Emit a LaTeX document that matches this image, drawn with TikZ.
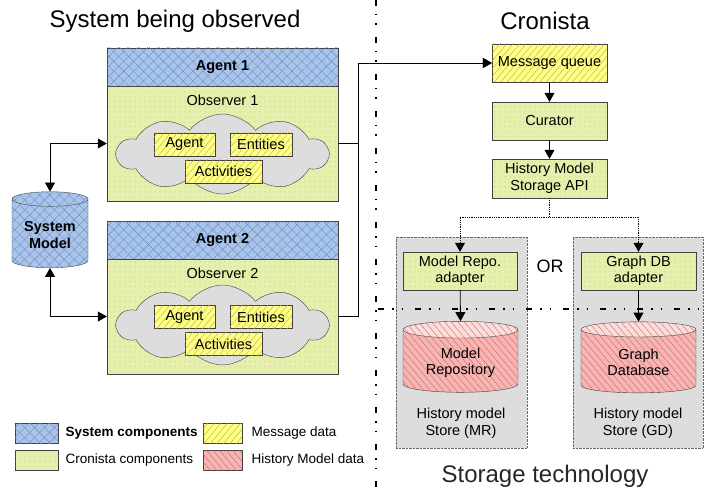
\documentclass[tikz,border=0pt]{standalone}
\usepackage{fontspec}
\setmainfont{Liberation Sans}
\usetikzlibrary{shapes.geometric, shapes.symbols, arrows.meta, positioning, patterns.meta}
\definecolor{sysblue}{HTML}{A9C4EB}
\definecolor{sysline}{HTML}{6C8EBF}
\definecolor{cgreen}{HTML}{E6F0AC}
\definecolor{cgreendot}{HTML}{AEBB70}
\definecolor{myellow}{HTML}{FFFF88}
\definecolor{myellowline}{HTML}{B8AE3C}
\definecolor{hred}{HTML}{F6B4B2}
\definecolor{hredline}{HTML}{C86A68}
\definecolor{stgray}{HTML}{DDDDDD}

\begin{document}
\begin{tikzpicture}[x=1pt, y=-1pt,
  font=\fontsize{14.5}{16.5}\selectfont,
  sysbox/.style={rectangle, draw=black!75, fill=sysblue, postaction={pattern={Hatch[angle=45,distance=7pt,line width=0.4pt]}, pattern color=sysline}, font=\fontsize{14.5}{16.5}\selectfont\bfseries},
  cbox/.style={rectangle, draw=black!75, fill=cgreen, postaction={pattern={Dots[distance=5pt,radius=0.5pt]}, pattern color=cgreendot}, align=center},
  mbox/.style={rectangle, draw=black!75, fill=myellow, postaction={pattern={Lines[angle=50,distance=5pt,line width=0.4pt]}, pattern color=myellowline}, align=center},
  hbox/.style={rectangle, draw=black!75, fill=hred, postaction={pattern={Lines[angle=-50,distance=5pt,line width=0.4pt]}, pattern color=hredline}},
  hcyl/.style={cylinder, shape border rotate=90, aspect=0.22, draw=black!75, cylinder uses custom fill, cylinder body fill=hred, cylinder end fill=hred!45, postaction={pattern={Lines[angle=-50,distance=5pt,line width=0.4pt]}, pattern color=hredline}, align=center, minimum width=115pt, minimum height=71pt},
  store/.style={rectangle, draw=black!60, densely dotted, fill=stgray, minimum width=131pt, minimum height=211pt},
  cloudy/.style={cloud, cloud puffs=10, cloud puff arc=105, cloud ignores aspect, draw=black!75, fill=stgray, minimum width=211pt, minimum height=80pt, inner sep=0pt},
  title/.style={font=\fontsize{24}{28}\selectfont},
  legtext/.style={anchor=west, font=\fontsize{13.5}{16}\selectfont},
  conn/.style={-{Triangle[length=9pt,width=10pt]}, thick, black},
  biconn/.style={{Triangle[length=9pt,width=10pt]}-{Triangle[length=9pt,width=10pt]}, thick, black},
  dotconn/.style={-{Triangle[length=9pt,width=10pt]}, densely dotted, thick, black},
  divider/.style={line width=1.2pt, dash pattern=on 6pt off 8pt on 1.5pt off 8pt on 1.5pt off 12pt}
]
\useasboundingbox (0,0) rectangle (710,492);

% titles
\node[title] (ttlsys) at (175,21) {System being observed};
\node[title] (ttlcro) at (545,21) {Cronista};
\node[title, text=black!85] (ttlsto) at (545,476) {Storage technology};

% system being observed
\node[sysbox, minimum width=231pt, minimum height=38pt] (agentA) at (222.5,67) {Agent 1};
\node[cbox, minimum width=231pt, minimum height=115pt] (obsA) at (222.5,143.5) {};
\node (obsAlbl) at (222.5,100) {Observer 1};
\node[cloudy] (cloudA) at (222.5,154) {};
\node[mbox, minimum width=61pt, minimum height=23pt, inner sep=1pt] (agA) at (184.5,144.5) {Agent};
\node[mbox, minimum width=62pt, minimum height=23pt, inner sep=1pt] (enA) at (261,144.5) {Entities};
\node[mbox, minimum width=77pt, minimum height=23pt, inner sep=1pt] (acA) at (223.5,171.5) {Activities};

\node[sysbox, minimum width=231pt, minimum height=38pt] (agentB) at (222.5,240) {Agent 2};
\node[cbox, minimum width=231pt, minimum height=115pt] (obsB) at (222.5,316.5) {};
\node (obsBlbl) at (222.5,273) {Observer 2};
\node[cloudy] (cloudB) at (222.5,325) {};
\node[mbox, minimum width=61pt, minimum height=23pt, inner sep=1pt] (agB) at (184.5,317) {Agent};
\node[mbox, minimum width=62pt, minimum height=23pt, inner sep=1pt] (enB) at (261,317) {Entities};
\node[mbox, minimum width=77pt, minimum height=23pt, inner sep=1pt] (acB) at (223.5,344) {Activities};

\node[cylinder, shape border rotate=90, aspect=0.25, draw=black!75, fill=sysblue, postaction={pattern={Hatch[angle=45,distance=7pt,line width=0.4pt]}, pattern color=sysline}, minimum width=76pt, minimum height=76pt, align=center, font=\fontsize{14.5}{16.5}\selectfont\bfseries] (sysmodel) at (50,235) {System\\Model};

% cronista
\node[mbox, minimum width=115pt, minimum height=38pt] (msgq) at (549.5,63) {Message queue};
\node[cbox, minimum width=115pt, minimum height=38pt] (curator) at (549.5,121) {Curator};
\node[cbox, minimum width=115pt, minimum height=39pt, inner sep=1pt] (api) at (549.5,178.5) {History Model\\Storage API};

% storage
\node[store] (storeMR) at (461.5,342.5) {};
\node[store, minimum width=130pt] (storeGD) at (638,342.5) {};
\node[cbox, minimum width=114pt, minimum height=38pt, inner sep=1pt] (adMR) at (460,271) {Model Repo.\\adapter};
\node[cbox, minimum width=115pt, minimum height=38pt, inner sep=1pt] (adGD) at (638.5,271) {Graph DB\\adapter};
\node[hcyl] (cylMR) at (460.5,362.5) {Model\\Repository};
\node[hcyl] (cylGD) at (638.5,362.5) {Graph\\Database};
\node[align=center] (lblMR) at (461,423) {History model\\Store (MR)};
\node[align=center] (lblGD) at (638,423) {History model\\Store (GD)};
\node[font=\fontsize{18}{20}\selectfont] (orlbl) at (550,266) {OR};

% dividers
\draw[divider] (376,0) -- (376,492);
\draw[divider] (378,309) -- (710,309);

% connectors
\draw[biconn] (sysmodel.top) |- (obsA.west);
\draw[biconn] (sysmodel.bottom) |- (obsB.west);
\draw[conn] (obsA.east) -- ++(20,0) |- (msgq.west);
\draw[conn] (obsB.east) -- ++(20,0) |- (msgq.west);
\draw[conn] (msgq) -- (curator);
\draw[conn] (curator) -- (api);
\draw[dotconn] (api.south) -- ++(0,19) -| (adMR.north);
\draw[dotconn] (api.south) -- ++(0,19) -| (adGD.north);
\draw[conn] (adMR) -- (cylMR.top);
\draw[conn] (adGD) -- (cylGD.top);

% legend
\node[sysbox, minimum width=43pt, minimum height=20pt] (legsys) at (36.5,433) {};
\node[legtext, font=\fontsize{13.5}{16}\selectfont\bfseries] (legsystxt) at (62,433) {System components};
\node[mbox, minimum width=39pt, minimum height=20pt] (legmsg) at (222.5,433) {};
\node[legtext] (legmsgtxt) at (248,433) {Message data};
\node[cbox, minimum width=43pt, minimum height=20pt] (legcro) at (36.5,460) {};
\node[legtext] (legcrotxt) at (62,460) {Cronista components};
\node[hbox, minimum width=39pt, minimum height=20pt] (leghis) at (222.5,460) {};
\node[legtext] (leghistxt) at (248,460) {History Model data};
\end{tikzpicture}
\end{document}
